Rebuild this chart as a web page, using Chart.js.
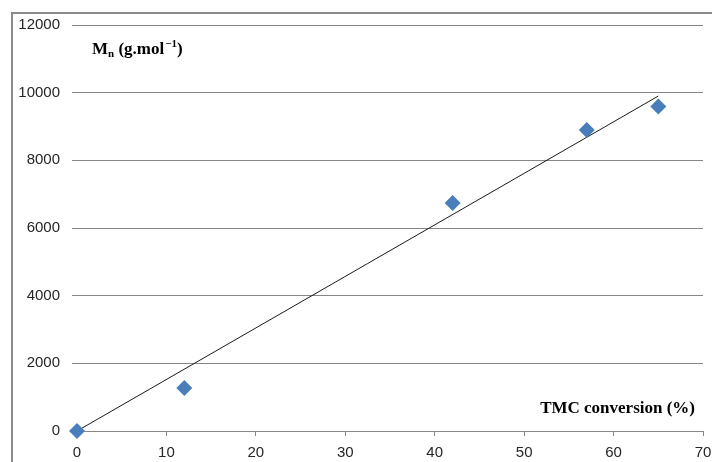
<!DOCTYPE html>
<html>
<head>
<meta charset="utf-8">
<script src="https://cdn.jsdelivr.net/npm/chart.js@4/dist/chart.umd.min.js"></script>
<style>
  html, body { margin: 0; padding: 0; background: #fff; }
  #wrap { width: 712px; height: 462px; position: relative; }
</style>
</head>
<body>
<div id="wrap"><canvas id="mn-chart" width="712" height="462"></canvas></div>
<script>
// TMC conversion (%) vs Mn (g/mol)
var conversion = [0, 12, 42, 57, 65];
var molarMass = [0, 1270, 6740, 8900, 9590];

// linear trendline at both ends
var trendX = [0, 65];
var trendY = [0, 9900];

var xTicks = [0, 10, 20, 30, 40, 50, 60, 70];
var yTicks = [0, 2000, 4000, 6000, 8000, 10000, 12000];

var yTitle = { main: "M", sub: "n", rest: " (g.mol", sup: "\u22121", end: ")" };
var xTitle = "TMC conversion (%)";

function toPoints(xs, ys) {
    var pts = [];
    for (var i = 0; i < xs.length; i++) {
        pts.push({ x: xs[i], y: ys[i] });
    }
    return pts;
}

// grey frame at top/left, like the cropped chart border
var framePlugin = {
    id: "frame",
    beforeDraw: function (chart) {
        var ctx = chart.ctx;
        ctx.save();
        ctx.fillStyle = "#fff";
        ctx.fillRect(0, 0, chart.width, chart.height);
        ctx.strokeStyle = "#8a8a8a";
        ctx.lineWidth = 2;
        ctx.beginPath();
        ctx.moveTo(12, chart.height);
        ctx.lineTo(12, 13);
        ctx.lineTo(chart.width, 13);
        ctx.stroke();
        ctx.restore();
    }
};

// axis titles drawn inside the plot, with sub/superscripts
var titlePlugin = {
    id: "titles",
    afterDraw: function (chart) {
        var ctx = chart.ctx;
        var area = chart.chartArea;
        ctx.save();
        ctx.fillStyle = "#000";
        ctx.textBaseline = "alphabetic";

        var big = "bold 17px 'Liberation Serif'";
        var small = "bold 11px 'Liberation Serif'";
        var x = area.left + 15;
        var y = area.top + 29;
        ctx.font = big;
        ctx.fillText(yTitle.main, x, y);
        x += ctx.measureText(yTitle.main).width;
        ctx.font = small;
        ctx.fillText(yTitle.sub, x, y + 3);
        x += ctx.measureText(yTitle.sub).width;
        ctx.font = big;
        ctx.fillText(yTitle.rest, x, y);
        x += ctx.measureText(yTitle.rest).width + 1;
        ctx.font = small;
        ctx.fillText(yTitle.sup, x, y - 7);
        x += ctx.measureText(yTitle.sup).width;
        ctx.font = big;
        ctx.fillText(yTitle.end, x, y);

        ctx.font = big;
        ctx.textAlign = "right";
        ctx.fillText(xTitle, area.right - 8, area.bottom - 18);
        ctx.restore();
    }
};

function plainTick(v) { return String(v); }

var ctx = document.getElementById("mn-chart");
var mychart = new Chart(ctx, {
    type: "scatter",
    data: {
        datasets: [{
            label: "Mn",
            data: toPoints(conversion, molarMass),
            pointStyle: "rectRot",
            pointRadius: 8,
            pointHoverRadius: 8,
            backgroundColor: "#4a7ebb",
            borderColor: "#4a7ebb",
            borderWidth: 0,
            showLine: false,
            clip: false,
            order: 1
        }, {
            label: "trend",
            data: toPoints(trendX, trendY),
            showLine: true,
            borderColor: "#1a1a1a",
            borderWidth: 1,
            pointRadius: 0,
            fill: false,
            order: 2
        }]
    },
    plugins: [framePlugin, titlePlugin],
    options: {
        responsive: false,
        animation: false,
        events: [],
        layout: {
            padding: { left: 0, right: 9, top: 25, bottom: 0 }
        },
        plugins: {
            legend: { display: false },
            tooltip: { enabled: false }
        },
        scales: {
            x: {
                type: "linear",
                min: 0,
                max: 70,
                afterBuildTicks: function (scale) {
                    scale.ticks = xTicks.map(function (v) { return { value: v }; });
                },
                afterFit: function (scale) {
                    scale.height = 31;
                    scale.paddingLeft = 0;
                    scale.paddingRight = 0;
                },
                border: { display: true, color: "#868686", width: 1 },
                grid: {
                    drawOnChartArea: false,
                    drawTicks: true,
                    tickLength: 5,
                    color: "#868686"
                },
                ticks: {
                    padding: 8,
                    color: "#262626",
                    font: { family: "'Liberation Sans'", size: 15 },
                    maxRotation: 0,
                    callback: plainTick
                }
            },
            y: {
                type: "linear",
                min: 0,
                max: 12000,
                afterBuildTicks: function (scale) {
                    scale.ticks = yTicks.map(function (v) { return { value: v }; });
                },
                afterFit: function (scale) { scale.width = 77; },
                border: { display: false },
                grid: {
                    drawTicks: true,
                    tickLength: 5,
                    color: "#868686"
                },
                ticks: {
                    padding: 12,
                    color: "#262626",
                    font: { family: "'Liberation Sans'", size: 15 },
                    callback: plainTick
                }
            }
        }
    }
});
</script>
</body>
</html>
